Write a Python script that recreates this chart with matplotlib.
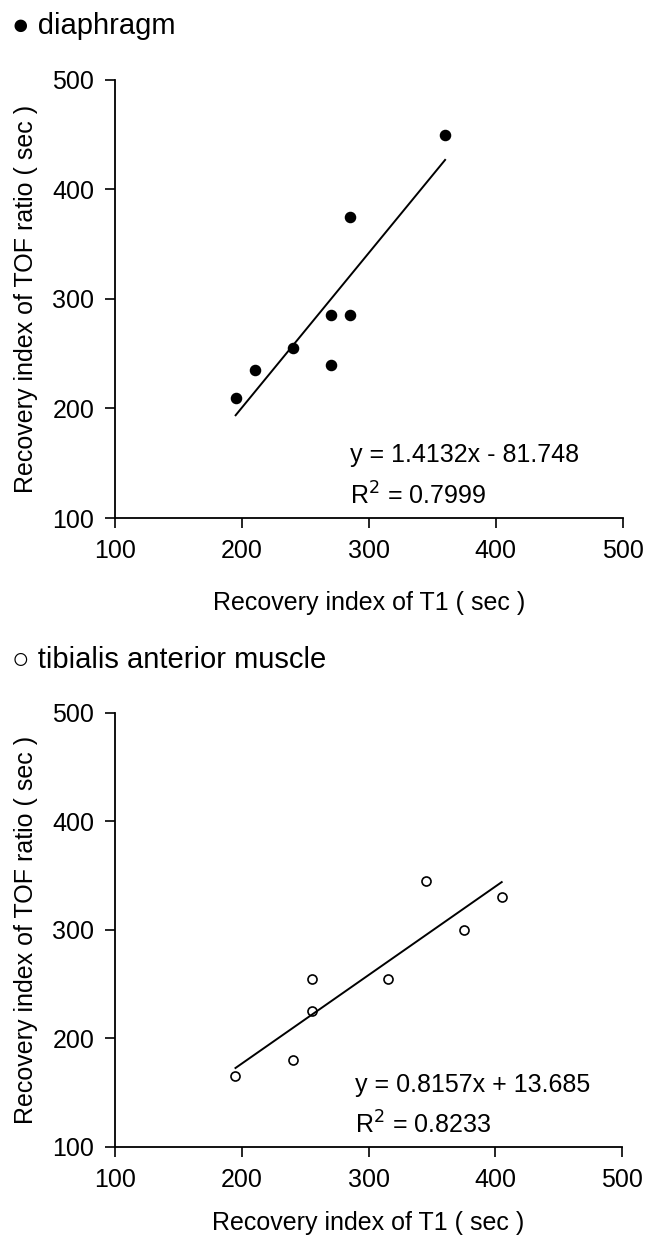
import matplotlib.pyplot as plt
import numpy as np

# fonts
plt.rcParams['font.family'] = ['Liberation Sans', 'DejaVu Sans']

# data
dia_t1 = [195, 210, 240, 270, 270, 285, 285, 360]
dia_tof = [210, 235, 255, 240, 285, 285, 375, 450]
dia_slope, dia_icept = 1.4132, -81.748
dia_r2 = 0.7999

tib_t1 = [195, 240, 255, 255, 315, 345, 375, 405]
tib_tof = [165, 180, 225, 255, 255, 345, 300, 330]
tib_slope, tib_icept = 0.8157, 13.685
tib_r2 = 0.8233

ticks = [100, 200, 300, 400, 500]

fig = plt.figure(figsize=(6.51, 12.44), dpi=100)

# top and bottom panels
ax1 = fig.add_axes([0.1767, 0.5836, 0.780, 0.3521])
ax2 = fig.add_axes([0.1767, 0.0780, 0.779, 0.3490])


def panel(ax, xs, ys, slope, icept, r2, filled, eq_x):
    xs = np.array(xs)
    if filled:
        ax.plot(xs, ys, 'o', ms=7.3, mfc='black', mec='black', mew=1)
    else:
        ax.plot(xs, ys, 'o', ms=6.5, mfc='white', mec='black', mew=1.2)
    xl = np.array([xs.min(), xs.max()])
    ax.plot(xl, slope * xl + icept, color='black', lw=1.4)
    sign = '-' if icept < 0 else '+'
    ax.text(eq_x, 151, f'y = {slope:.4f}x {sign} {abs(icept):.3f}',
            fontsize=18)
    ax.text(eq_x, 112, f'R$^2$ = {r2:.4f}', fontsize=18)
    ax.set_xlim(100, 500)
    ax.set_ylim(100, 500)
    ax.set_xticks(ticks)
    ax.set_yticks(ticks)
    ax.tick_params(labelsize=18, length=7, width=1.2, direction='out', pad=8)
    for s in ['top', 'right']:
        ax.spines[s].set_visible(False)
    for s in ['left', 'bottom']:
        ax.spines[s].set_linewidth(1.3)
        ax.spines[s].set_clip_on(False)
    ax.set_xlabel('Recovery index of T1 ( sec )', fontsize=18, labelpad=20)
    ax.set_ylabel('Recovery index of TOF ratio ( sec )', fontsize=18, labelpad=10)


panel(ax1, dia_t1, dia_tof, dia_slope, dia_icept, dia_r2, True, 285)
panel(ax2, tib_t1, tib_tof, tib_slope, tib_icept, tib_r2, False, 289)
ax2.xaxis.labelpad = 14

fig.text(0.018, 0.979, '● diaphragm', fontsize=21, va='center')
fig.text(0.018, 0.4695, '○ tibialis anterior muscle', fontsize=21, va='center')

fig.savefig('out.png', dpi=100)
